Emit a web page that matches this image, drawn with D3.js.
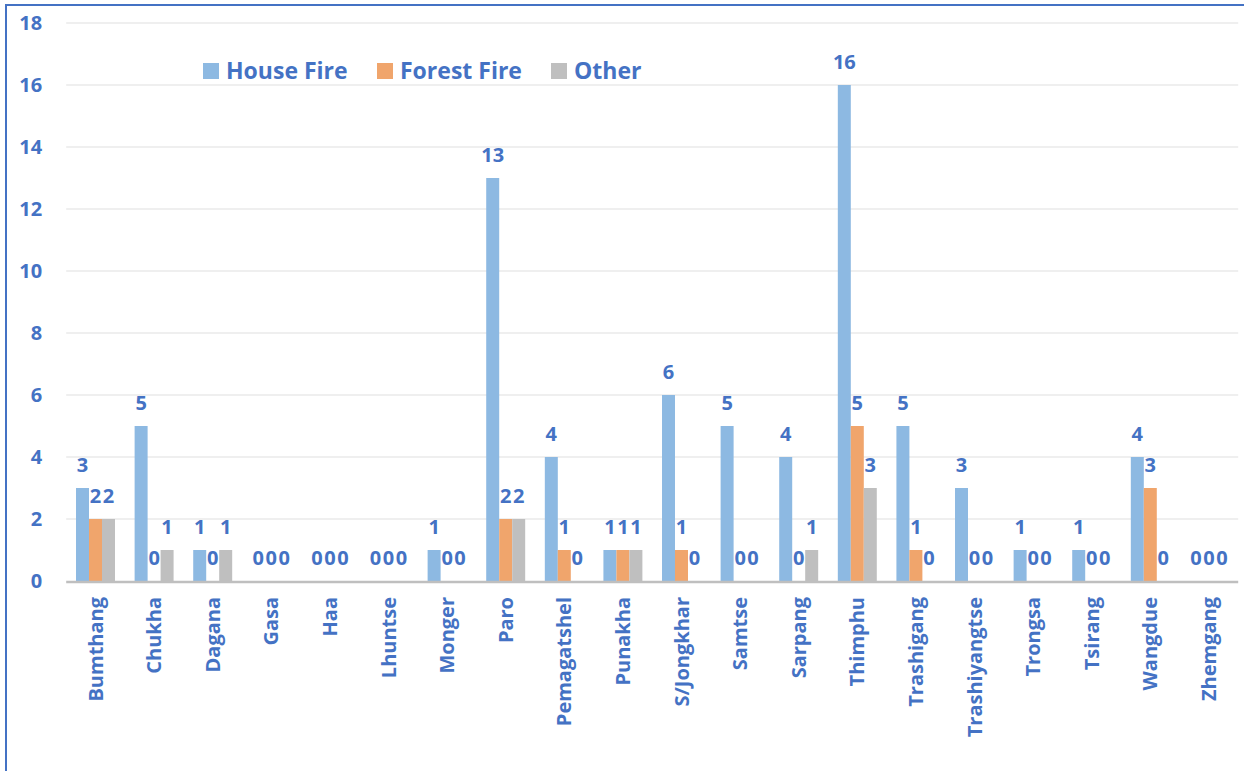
<!DOCTYPE html>
<html><head><meta charset="utf-8">
<script src="https://cdn.jsdelivr.net/npm/d3@7"></script>
<style>html,body{margin:0;padding:0;background:#fff;}svg{display:block;}</style>
</head><body><svg id="c" width="1244" height="771"></svg>
<script>
const categories = ["Bumthang","Chukha","Dagana","Gasa","Haa","Lhuntse","Monger","Paro","Pemagatshel","Punakha","S/Jongkhar","Samtse","Sarpang","Thimphu","Trashigang","Trashiyangtse","Trongsa","Tsirang","Wangdue","Zhemgang"];
const houseFire  = [3,5,1,0,0,0,1,13,4,1,6,5,4,16,5,3,1,1,4,0];
const forestFire = [2,0,0,0,0,0,0,2,1,1,1,0,0,5,1,0,0,0,3,0];
const other      = [2,1,1,0,0,0,0,2,0,1,0,0,1,3,0,0,0,0,0,0];
const seriesNames = ["House Fire","Forest Fire","Other"];
const yTicks = [0,2,4,6,8,10,12,14,16,18];

const colors = ["#8DB9E2","#F0A56C","#BFBFBF"];
const textColor = "#4472C4";
const font = "'Open Sans', sans-serif";
const series = [houseFire, forestFire, other];

const svg = d3.select("#c");
// frame
svg.append("rect").attr("x",6).attr("y",5).attr("width",1260).attr("height",800)
  .attr("fill","none").attr("stroke","#4472C4").attr("stroke-width",2);

const pLeft = 66.2, pRight = 1238.2, pTop = 23, pBottom = 581;
const x = d3.scaleBand().domain(categories).range([pLeft,pRight]).paddingInner(0.335).paddingOuter(0.1675);
const xs = d3.scaleBand().domain(seriesNames).range([0,x.bandwidth()]);
const y = d3.scaleLinear().domain([0,18]).range([pBottom,pTop]);

// gridlines
svg.append("g").selectAll("line").data(yTicks.filter(d=>d>0)).join("line")
  .attr("x1",pLeft).attr("x2",pRight).attr("y1",d=>y(d)).attr("y2",d=>y(d))
  .attr("stroke","#EFEFEF").attr("stroke-width",2);

// y axis labels
const yAxis = svg.append("g").attr("transform",`translate(${pLeft},0)`)
  .call(d3.axisLeft(y).tickValues(yTicks).tickSize(0).tickPadding(24));
yAxis.select(".domain").remove();
yAxis.selectAll("text").attr("fill",textColor).style("font-family",font)
  .style("font-weight","700").style("font-size","20px");

// bars
const groups = svg.append("g").selectAll("g").data(categories).join("g")
  .attr("transform",d=>`translate(${x(d)},0)`);
seriesNames.forEach((s,si)=>{
  groups.append("rect")
    .attr("x",xs(s)).attr("width",xs.bandwidth())
    .attr("y",(d,i)=>y(series[si][i])).attr("height",(d,i)=>pBottom-y(series[si][i]))
    .attr("fill",colors[si]);
});
// value labels
seriesNames.forEach((s,si)=>{
  groups.append("text")
    .attr("x",xs(s)+xs.bandwidth()/2).attr("y",(d,i)=>y(series[si][i])-16)
    .attr("text-anchor","middle").attr("fill",textColor)
    .style("font-family",font).style("font-weight","700").style("font-size","20px")
    .text((d,i)=>series[si][i]);
});

// x axis
svg.append("line").attr("x1",pLeft).attr("x2",pRight).attr("y1",pBottom+1).attr("y2",pBottom+1)
  .attr("stroke","#BFBFBF").attr("stroke-width",2.5);
const xAxis = svg.append("g").attr("transform",`translate(0,${pBottom})`)
  .call(d3.axisBottom(x).tickSize(0).tickPadding(0));
xAxis.select(".domain").remove();
xAxis.selectAll("text")
  .attr("transform","translate(0,16) rotate(-90)")
  .attr("x",0).attr("y",0).attr("dy","0.35em")
  .attr("text-anchor","end").attr("fill",textColor)
  .style("font-family",font).style("font-weight","700").style("font-size","20px");

// legend
const legendX = [203,377,551];
const leg = svg.append("g");
seriesNames.forEach((s,si)=>{
  leg.append("rect").attr("x",legendX[si]).attr("y",63).attr("width",16).attr("height",16).attr("fill",colors[si]);
  leg.append("text").attr("x",legendX[si]+23).attr("y",79).attr("fill",textColor)
    .style("font-family",font).style("font-weight","700").style("font-size","23px").text(s);
});
</script></body></html>
